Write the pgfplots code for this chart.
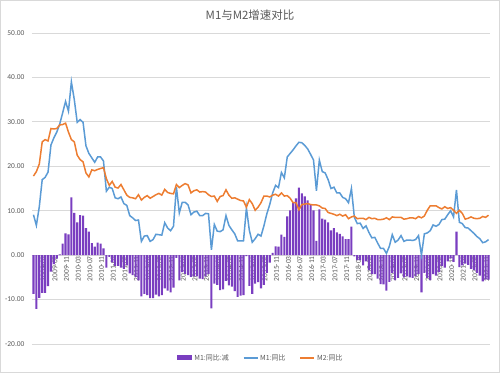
\documentclass[border=0pt]{standalone}
\usepackage{fontspec}
\setmainfont{Carlito}
\newfontfamily\cjk{Noto Sans CJK SC}
\usepackage{pgfplots}
\usepackage{pgfplotstable}
\pgfplotsset{compat=1.18}
\definecolor{barc}{HTML}{7A3EC0}
\definecolor{mone}{HTML}{5B9BD5}
\definecolor{mtwo}{HTML}{ED7D31}
\definecolor{txt}{HTML}{595959}
\definecolor{gridc}{HTML}{D9D9D9}
\pgfplotstableread{
i m1 m2 d
0 9.1 17.8 -8.7
1 6.7 18.8 -12.1
2 10.9 20.5 -9.6
3 17.0 25.5 -8.5
4 17.5 26.0 -8.5
5 18.7 25.7 -7.0
6 24.8 28.5 -3.7
7 26.4 28.4 -2.0
8 27.7 28.5 -0.8
9 29.5 29.3 0.2
10 32.0 29.4 2.6
11 34.6 29.7 4.9
12 32.4 27.7 4.7
13 39.0 26.0 13.0
14 35.0 25.5 9.5
15 29.9 22.5 7.4
16 30.5 21.5 9.0
17 29.9 21.0 8.9
18 24.6 18.5 6.1
19 22.9 17.6 5.3
20 21.9 19.2 2.7
21 20.9 19.0 1.9
22 22.1 19.3 2.8
23 22.1 19.5 2.6
24 21.2 19.7 1.5
25 14.4 17.2 -2.8
26 15.3 15.7 -0.4
27 15.0 16.6 -1.6
28 12.9 15.3 -2.4
29 12.7 15.1 -2.4
30 13.1 15.9 -2.8
31 11.6 14.7 -3.1
32 11.2 13.5 -2.3
33 8.9 13.0 -4.1
34 8.4 12.9 -4.5
35 7.8 12.7 -4.9
36 7.9 13.6 -5.7
37 3.1 12.4 -9.3
38 4.3 13.0 -8.7
39 4.4 13.4 -9.0
40 3.1 12.8 -9.7
41 3.5 13.2 -9.7
42 4.7 13.6 -8.9
43 4.6 13.9 -9.3
44 4.5 13.5 -9.0
45 7.3 14.8 -7.5
46 6.1 14.1 -8.0
47 5.5 13.9 -8.4
48 6.5 13.8 -7.3
49 15.3 15.9 -0.6
50 9.5 15.2 -5.7
51 11.9 15.7 -3.8
52 11.9 16.1 -4.2
53 11.3 15.8 -4.5
54 9.1 14.0 -4.9
55 9.7 14.5 -4.8
56 9.9 14.7 -4.8
57 8.9 14.2 -5.3
58 8.9 14.3 -5.4
59 9.4 14.2 -4.8
60 9.3 13.6 -4.3
61 1.2 13.2 -12.0
62 6.9 13.3 -6.4
63 5.4 12.1 -6.7
64 5.3 13.2 -7.9
65 5.7 13.4 -7.7
66 8.9 14.7 -5.8
67 6.7 13.5 -6.8
68 5.7 12.8 -7.1
69 4.8 12.9 -8.1
70 3.2 12.6 -9.4
71 3.2 12.3 -9.1
72 3.2 12.2 -9.0
73 10.6 10.8 -0.2
74 5.6 12.5 -6.9
75 2.9 11.6 -8.7
76 3.7 10.1 -6.4
77 4.7 10.8 -6.1
78 4.3 11.8 -7.5
79 6.6 13.3 -6.7
80 9.3 13.3 -4.0
81 11.4 13.1 -1.7
82 14.0 13.5 0.5
83 15.7 13.7 2.0
84 15.2 13.3 1.9
85 18.6 14.0 4.6
86 17.4 13.3 4.1
87 22.1 13.4 8.7
88 22.9 12.8 10.1
89 23.7 11.8 11.9
90 24.6 11.8 12.8
91 25.4 10.2 15.2
92 25.3 11.4 13.9
93 24.7 11.5 13.2
94 23.9 11.6 12.3
95 22.7 11.4 11.3
96 21.4 11.3 10.1
97 14.5 11.3 3.2
98 21.4 11.1 10.3
99 18.8 10.6 8.2
100 18.5 10.5 8.0
101 17.0 9.6 7.4
102 15.0 9.4 5.6
103 15.3 9.2 6.1
104 14.0 8.9 5.1
105 14.0 9.2 4.8
106 13.0 8.8 4.2
107 12.7 9.1 3.6
108 11.8 8.2 3.6
109 15.0 8.6 6.4
110 8.5 8.8 -0.3
111 7.1 8.2 -1.1
112 7.2 8.3 -1.1
113 6.0 8.3 -2.3
114 6.6 8.0 -1.4
115 5.1 8.5 -3.4
116 3.9 8.2 -4.3
117 4.0 8.3 -4.3
118 2.7 8.0 -5.3
119 1.5 8.0 -6.5
120 1.5 8.1 -6.6
121 0.4 8.4 -8.0
122 2.0 8.0 -6.0
123 4.6 8.6 -4.0
124 2.9 8.5 -5.6
125 3.4 8.5 -5.1
126 4.4 8.5 -4.1
127 3.1 8.1 -5.0
128 3.4 8.2 -4.8
129 3.4 8.4 -5.0
130 3.3 8.4 -5.1
131 3.5 8.2 -4.7
132 4.4 8.7 -4.3
133 0.0 8.4 -8.4
134 4.8 8.8 -4.0
135 5.0 10.1 -5.1
136 5.5 11.1 -5.6
137 6.8 11.1 -4.3
138 6.5 11.1 -4.6
139 6.9 10.7 -3.8
140 8.0 10.4 -2.4
141 8.1 10.9 -2.8
142 9.1 10.5 -1.4
143 10.0 10.7 -0.7
144 8.6 10.1 -1.5
145 14.7 9.4 5.3
146 7.4 10.1 -2.7
147 7.1 9.4 -2.3
148 6.2 8.1 -1.9
149 6.1 8.3 -2.2
150 5.5 8.6 -3.1
151 4.9 8.3 -3.4
152 4.2 8.2 -4.0
153 3.7 8.3 -4.6
154 2.8 8.7 -5.9
155 3.0 8.5 -5.5
156 3.5 9.0 -5.5
}\data
\begin{document}
\begin{tikzpicture}
\useasboundingbox (0,0) rectangle (500bp,373bp);
\draw[gridc, line width=0.8bp] (0.5bp,0.5bp) rectangle (499.5bp,372.5bp);
\node[text=txt, font=\cjk\fontsize{11.5}{13}\selectfont] at (250bp,358bp) {M1与M2增速对比};
\begin{axis}[
  at={(32bp,29bp)}, anchor=south west,
  scale only axis, width=458bp, height=311bp,
  xmin=-0.5, xmax=156.5, ymin=-20, ymax=50,
  axis x line=middle, axis y line=left,
  hide obscured x ticks=false, hide obscured y ticks=false,
  x axis line style={-, draw=gridc, line width=0.8bp},
  y axis line style={draw=none},
  ytick={-20,-10,...,50},
  yticklabel={\pgfmathprintnumber[fixed,fixed zerofill,precision=2,assume math mode=true]{\tick}},
  yticklabel style={font=\fontsize{7.5}{8}\selectfont, text=txt, anchor=east, xshift=-4bp},
  xtick={3,7,...,155},
  xticklabels={2009-03,2009-07,2009-11,2010-03,2010-07,2010-11,2011-03,2011-07,2011-11,2012-03,2012-07,2012-11,2013-03,2013-07,2013-11,2014-03,2014-07,2014-11,2015-03,2015-07,2015-11,2016-03,2016-07,2016-11,2017-03,2017-07,2017-11,2018-03,2018-07,2018-11,2019-03,2019-07,2019-11,2020-03,2020-07,2020-11,2021-03,2021-07,2021-11},
  xticklabel style={rotate=90, anchor=east, font=\fontsize{7.5}{8}\selectfont, text=txt, inner sep=1bp, yshift=-1bp},
  major tick length=0pt,
  ymajorgrids, grid style={draw=gridc, line width=0.8bp},
  legend columns=3,
  legend cell align=left,
  legend style={draw=none, fill=none, at={(0.5,-0.045)}, anchor=center,
    font=\cjk\fontsize{7}{8}\selectfont, text=txt,
    /tikz/every even column/.append style={column sep=12bp}},
]
\addplot[ybar, bar width=2.1bp, fill=barc, draw=none,
  legend image code/.code={\fill[barc] (0bp,-2.5bp) rectangle (15bp,2.5bp);}]
  table[x=i, y=d] {\data};
\addlegendentry{M1:同比:减}
\addplot[mone, line width=1.5bp, mark=none,
  legend image code/.code={\draw[mone, line width=1.5bp] (0bp,0bp) -- (14bp,0bp);}]
  table[x=i, y=m1] {\data};
\addlegendentry{M1:同比}
\addplot[mtwo, line width=1.5bp, mark=none,
  legend image code/.code={\draw[mtwo, line width=1.5bp] (0bp,0bp) -- (14bp,0bp);}]
  table[x=i, y=m2] {\data};
\addlegendentry{M2:同比}
\end{axis}
\end{tikzpicture}
\end{document}
